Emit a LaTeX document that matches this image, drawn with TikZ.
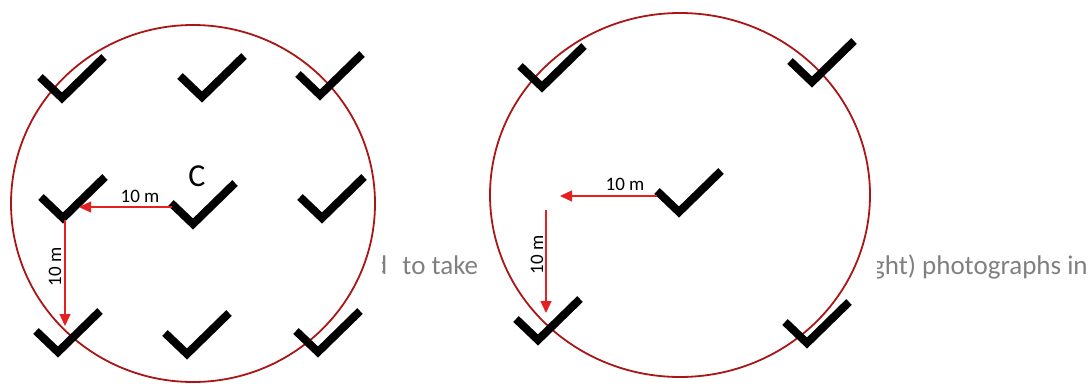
\documentclass[tikz,border=0pt]{standalone}
\usepackage{fontspec}
\setmainfont{Carlito}
\usetikzlibrary{arrows.meta}
\definecolor{rim}{RGB}{170,22,22}
\definecolor{pointer}{RGB}{228,32,32}
\definecolor{greytext}{RGB}{128,128,128}
\tikzset{
  plot/.style={draw=rim, line width=1.8pt},
  chk/.pic={\draw[line width=8pt, line cap=butt, line join=miter] (-22,-21) -- (0,0) -- (42,-41);},
  dist/.style={draw=pointer, line width=1.2pt, -{Triangle[length=12pt,width=11pt]}},
  dlabel/.style={font=\fontsize{19}{21}\selectfont, inner sep=1pt},
  bgtext/.style={font=\fontsize{27}{31}\selectfont, text=greytext, inner sep=0pt}
}
\begin{document}
\begin{tikzpicture}[x=1pt,y=-1pt]
  \useasboundingbox (0,0) rectangle (1091,383);
  % background text
  \begin{scope}
    \clip (382,230) rectangle (485,300);
    \node[bgtext, anchor=base west] (txtL) at (373,274) {d\hspace{9pt} to take};
  \end{scope}
  \begin{scope}
    \clip (877,230) rectangle (1091,300);
    \node[bgtext, anchor=base west] (txtR) at (872,274) {ght) photographs in};
  \end{scope}
  % plots
  \draw[plot] (193,203.5) ellipse [x radius=182, y radius=178.5];
  \draw[plot] (680,195) ellipse [x radius=190, y radius=182];
  % left plot ticks
  \pic at (62,98) {chk};
  \pic at (202,97) {chk};
  \pic at (320,95) {chk};
  \pic at (63,218) {chk};
  \pic at (193,224) {chk};
  \pic at (322,218) {chk};
  \pic at (58,352) {chk};
  \pic at (187,354) {chk};
  \pic at (318,352) {chk};
  \node[font=\fontsize{32}{34}\selectfont, inner sep=0pt] (ctr) at (197,176) {C};
  % right plot ticks
  \pic at (542,87) {chk};
  \pic at (812,82) {chk};
  \pic at (679,212) {chk};
  \pic at (538,340) {chk};
  \pic at (807,343) {chk};
  % distances
  \coordinate (a1) at (172,207);
  \coordinate (a2) at (79,207);
  \coordinate (a3) at (65,220);
  \coordinate (a4) at (65,326);
  \coordinate (b1) at (657,196);
  \coordinate (b2) at (560,196);
  \coordinate (b3) at (546,210);
  \coordinate (b4) at (546,313);
  \draw[dist] (a1) -- (a2);
  \draw[dist] (a3) -- (a4);
  \draw[dist] (b1) -- (b2);
  \draw[dist] (b3) -- (b4);
  \node[dlabel] (la1) at (140,196) {10 m};
  \node[dlabel, rotate=90] (la2) at (55,267) {10 m};
  \node[dlabel] (lb1) at (625,184) {10 m};
  \node[dlabel, rotate=90] (lb2) at (537,255) {10 m};
\end{tikzpicture}
\end{document}
